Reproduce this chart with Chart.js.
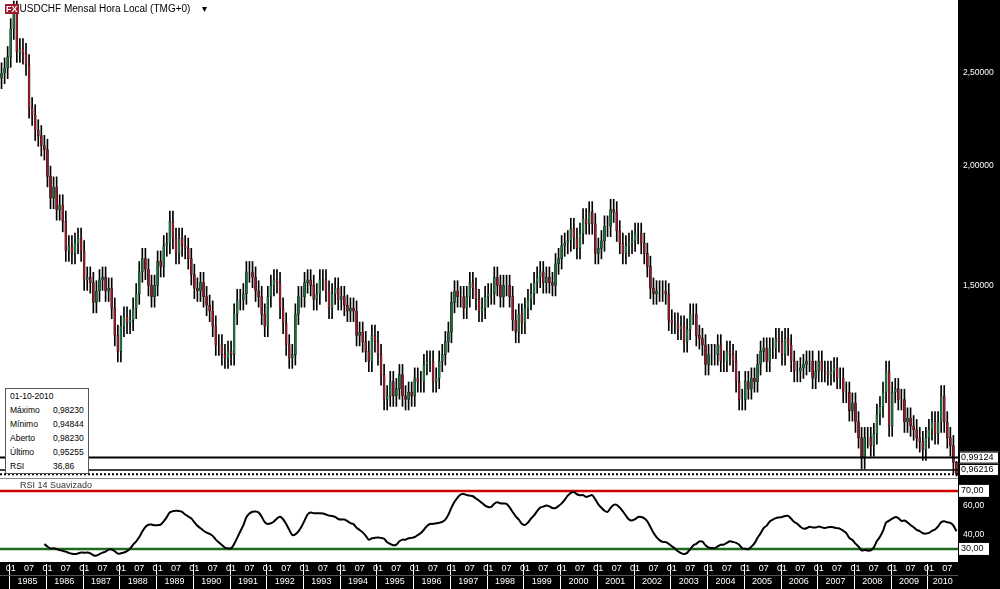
<!DOCTYPE html>
<html>
<head>
<meta charset="utf-8">
<script src="https://cdn.jsdelivr.net/npm/chart.js@4"></script>
<style>
  body { margin: 0; width: 1000px; height: 589px; overflow: hidden; background: #fff; font-family: Arial, "Liberation Sans", sans-serif; position: relative; }
  #mainWrap { position: absolute; left: 0; top: 0; width: 1000px; height: 478px; }
  #rsiWrap { position: absolute; left: 0; top: 478px; width: 1000px; height: 111px; }
  #rightPanel { position: absolute; left: 958px; top: 0; width: 42px; height: 589px; background: #000; }
  #title { position: absolute; left: 5px; top: 3px; font-size: 10px; color: #000; }
  #title .fx { display: inline-block; background: #a01c2c; color: #fff; font-weight: bold; font-size: 9px; padding: 0 1px; margin-right: 1px; }
  #info { position: absolute; left: 5px; top: 388px; width: 82px; background: #fff; border: 1px solid #555; font-size: 8.5px; line-height: 14px; z-index: 5; }
  #info div { padding-left: 4px; }
  #info span { position: absolute; left: 47px; }
  #rsiLabel { position: absolute; left: 20px; top: 480px; font-size: 9px; color: #333; z-index: 5; }
  canvas { display: block; }
</style>
</head>
<body>
<div id="rightPanel"></div>
<div id="mainWrap"><canvas id="mainChart" width="1000" height="478"></canvas></div>
<div id="rsiWrap"><canvas id="rsiChart" width="1000" height="111"></canvas></div>
<div id="title"><span class="fx">FX</span>USDCHF Mensal Hora Local (TMG+0) &nbsp;&nbsp;&nbsp;▾</div>
<div id="info">
  <div>01-10-2010</div>
  <div>Máximo<span>0,98230</span></div>
  <div>Mínimo<span>0,94844</span></div>
  <div>Aberto<span>0,98230</span></div>
  <div>Último<span>0,95255</span></div>
  <div>RSI<span>36,86</span></div>
</div>
<div id="rsiLabel">RSI 14 Suavizado</div>
<script>
// Monthly closes, Oct 1984 - Oct 2010
const closes1984 = [2.50, 2.53, 2.60];
const closes1985 = [2.78, 2.90, 2.63, 2.65, 2.62, 2.55, 2.30, 2.26, 2.18, 2.15, 2.10, 2.08];
const closes1986 = [1.95, 1.85, 1.90, 1.80, 1.82, 1.75, 1.63, 1.65, 1.62, 1.66, 1.68, 1.63];
const closes1987 = [1.52, 1.53, 1.51, 1.44, 1.48, 1.52, 1.53, 1.48, 1.49, 1.42, 1.33, 1.28];
const closes1988 = [1.36, 1.39, 1.37, 1.38, 1.42, 1.47, 1.55, 1.60, 1.56, 1.50, 1.46, 1.50];
const closes1989 = [1.59, 1.57, 1.65, 1.66, 1.75, 1.68, 1.62, 1.68, 1.65, 1.64, 1.60, 1.54];
const closes1990 = [1.49, 1.48, 1.51, 1.46, 1.43, 1.41, 1.36, 1.30, 1.30, 1.27, 1.26, 1.28];
const closes1991 = [1.27, 1.40, 1.45, 1.45, 1.47, 1.55, 1.55, 1.53, 1.48, 1.46, 1.40, 1.36];
const closes1992 = [1.46, 1.50, 1.52, 1.51, 1.42, 1.37, 1.30, 1.26, 1.27, 1.40, 1.46, 1.46];
const closes1993 = [1.51, 1.52, 1.50, 1.45, 1.47, 1.52, 1.52, 1.48, 1.42, 1.47, 1.49, 1.45];
const closes1994 = [1.46, 1.43, 1.41, 1.42, 1.41, 1.33, 1.34, 1.31, 1.28, 1.25, 1.33, 1.31];
const closes1995 = [1.27, 1.21, 1.14, 1.15, 1.19, 1.15, 1.17, 1.21, 1.15, 1.14, 1.16, 1.15];
const closes1996 = [1.20, 1.19, 1.19, 1.24, 1.25, 1.25, 1.19, 1.20, 1.25, 1.27, 1.31, 1.34];
const closes1997 = [1.44, 1.48, 1.46, 1.46, 1.42, 1.46, 1.51, 1.49, 1.45, 1.41, 1.42, 1.46];
const closes1998 = [1.47, 1.47, 1.53, 1.50, 1.46, 1.50, 1.50, 1.46, 1.38, 1.34, 1.40, 1.37];
const closes1999 = [1.42, 1.45, 1.47, 1.51, 1.53, 1.55, 1.51, 1.53, 1.51, 1.50, 1.58, 1.60];
const closes2000 = [1.65, 1.66, 1.67, 1.72, 1.68, 1.64, 1.70, 1.76, 1.74, 1.79, 1.74, 1.62];
const closes2001 = [1.64, 1.67, 1.73, 1.73, 1.80, 1.79, 1.71, 1.66, 1.62, 1.65, 1.66, 1.67];
const closes2002 = [1.70, 1.70, 1.66, 1.62, 1.57, 1.49, 1.47, 1.48, 1.48, 1.48, 1.47, 1.38];
const closes2003 = [1.37, 1.37, 1.35, 1.36, 1.31, 1.35, 1.40, 1.40, 1.33, 1.32, 1.30, 1.24];
const closes2004 = [1.27, 1.27, 1.27, 1.30, 1.25, 1.25, 1.28, 1.27, 1.25, 1.19, 1.14, 1.14];
const closes2005 = [1.19, 1.17, 1.20, 1.19, 1.24, 1.28, 1.29, 1.25, 1.29, 1.29, 1.32, 1.31];
const closes2006 = [1.27, 1.32, 1.30, 1.25, 1.22, 1.22, 1.23, 1.24, 1.25, 1.25, 1.20, 1.22];
const closes2007 = [1.25, 1.22, 1.22, 1.21, 1.22, 1.23, 1.20, 1.20, 1.16, 1.16, 1.11, 1.13];
const closes2008 = [1.08, 1.04, 0.99, 1.04, 1.04, 1.02, 1.05, 1.10, 1.12, 1.16, 1.22, 1.07];
const closes2009 = [1.16, 1.17, 1.14, 1.14, 1.08, 1.09, 1.07, 1.06, 1.04, 1.03, 1.01, 1.04];
const closes2010 = [1.06, 1.08, 1.05, 1.08, 1.15, 1.08, 1.04, 1.02, 0.98, 0.95255];

const priceTicks = [1.5, 2.0, 2.5];
const rsiTicks = [40, 60];
const supportLevel = 0.99124;
const lastLevel = 0.96216;
const lastClose = 0.95255;

const closes = [].concat(closes1984, closes1985, closes1986, closes1987, closes1988, closes1989,
  closes1990, closes1991, closes1992, closes1993, closes1994, closes1995, closes1996, closes1997,
  closes1998, closes1999, closes2000, closes2001, closes2002, closes2003, closes2004, closes2005,
  closes2006, closes2007, closes2008, closes2009, closes2010);

// category labels "YYYY-MM"
const labels = closes.map((c, i) => {
  const m = (i + 9) % 12 + 1;
  const y = 1984 + Math.floor((i + 9) / 12);
  return y + '-' + String(m).padStart(2, '0');
});

const opens = closes.map((c, i) => i === 0 ? 2.47 : closes[i - 1]);
const bodies = closes.map((c, i) => [Math.min(opens[i], c), Math.max(opens[i], c)]);
const wicks = closes.map((c, i) => [Math.min(opens[i], c) * 0.975, Math.max(opens[i], c) * 1.025]);
wicks[wicks.length - 1] = [0.94844, 0.98230];
const bodyColors = closes.map((c, i) => c >= opens[i] ? '#1f6e3c' : '#8e1b2b');

// RSI 14 (Wilder), then smoothed with a 5-month average
const rawRsi = closes.map(() => null);
let gain = 0, loss = 0;
for (let i = 1; i < closes.length; i++) {
  const d = closes[i] - closes[i - 1];
  const g = Math.max(d, 0), l = Math.max(-d, 0);
  if (i <= 14) {
    gain += g / 14; loss += l / 14;
    if (i === 14) rawRsi[i] = 100 - 100 / (1 + gain / (loss || 1e-9));
  } else {
    gain = (gain * 13 + g) / 14; loss = (loss * 13 + l) / 14;
    rawRsi[i] = 100 - 100 / (1 + gain / (loss || 1e-9));
  }
}
const rsi = rawRsi.map((v, i) => {
  if (v === null) return null;
  const win = rawRsi.slice(Math.max(14, i - 4), i + 1);
  return win.reduce((a, b) => a + b, 0) / win.length;
});

const fmt = v => v.toFixed(5).replace('.', ',');

const levelPlugin = {
  id: 'levels',
  afterDatasetsDraw(chart) {
    const { ctx, chartArea, scales } = chart;
    const y = scales.y;
    ctx.save();
    [[supportLevel, 2, []], [lastLevel, 1.5, []], [lastClose, 2, [2, 2]]].forEach(([v, w, dash]) => {
      const py = y.getPixelForValue(v);
      ctx.strokeStyle = '#000'; ctx.lineWidth = w; ctx.setLineDash(dash);
      ctx.beginPath(); ctx.moveTo(chartArea.left, py); ctx.lineTo(chartArea.right, py); ctx.stroke();
    });
    ctx.setLineDash([]);
    ctx.font = '9px Arial';
    [supportLevel, lastLevel].forEach(v => {
      const py = y.getPixelForValue(v);
      ctx.fillStyle = '#fff'; ctx.fillRect(959, py - 6, 40, 12);
      ctx.strokeStyle = '#000'; ctx.lineWidth = 1; ctx.strokeRect(959.5, py - 5.5, 39, 11);
      ctx.fillStyle = '#000'; ctx.textBaseline = 'middle'; ctx.fillText(fmt(v), 961, py);
    });
    ctx.restore();
  }
};

new Chart(document.getElementById('mainChart'), {
  type: 'bar',
  data: {
    labels: labels,
    datasets: [
      { data: bodies, backgroundColor: bodyColors, borderColor: '#000', borderWidth: 0.3, borderSkipped: false, grouped: false, barThickness: 2, order: 0, clip: false },
      { data: wicks, backgroundColor: '#000', grouped: false, barThickness: 1, order: 1, clip: false }
    ]
  },
  options: {
    animation: false, responsive: false, maintainAspectRatio: false,
    events: [],
    layout: { padding: 0 },
    plugins: { legend: { display: false }, tooltip: { enabled: false } },
    scales: {
      x: { display: false, offset: true },
      y: {
        type: 'logarithmic', position: 'right', min: 0.96, max: 2.93,
        afterFit: s => { s.width = 42; },
        afterBuildTicks: s => { s.ticks = priceTicks.map(v => ({ value: v })); },
        grid: { display: false, tickLength: 3, tickColor: '#fff' },
        border: { display: false },
        ticks: { color: '#fff', font: { size: 8.5 }, padding: 2, callback: v => fmt(v) }
      }
    }
  },
  plugins: [levelPlugin]
});

const rsiPlugin = {
  id: 'rsiDeco',
  beforeDraw(chart) {
    const { ctx, chartArea } = chart;
    ctx.save();
    ctx.fillStyle = '#000';
    ctx.fillRect(0, chartArea.bottom, 1000, chart.height - chartArea.bottom);
    ctx.restore();
  },
  beforeDatasetsDraw(chart) {
    const { ctx, chartArea, scales } = chart;
    ctx.save();
    ctx.strokeStyle = '#888'; ctx.lineWidth = 1;
    ctx.beginPath(); ctx.moveTo(0, 0.5); ctx.lineTo(chartArea.right, 0.5); ctx.stroke();
    [[70, '#d00000'], [30, '#1e6b1e']].forEach(([v, c]) => {
      const py = scales.y.getPixelForValue(v);
      ctx.strokeStyle = c; ctx.lineWidth = 2.5;
      ctx.beginPath(); ctx.moveTo(chartArea.left, py); ctx.lineTo(chartArea.right, py); ctx.stroke();
    });
    ctx.restore();
  },
  afterDraw(chart) {
    const { ctx, chartArea, scales } = chart;
    const x = scales.x;
    ctx.save();
    ctx.fillStyle = '#fff'; ctx.font = '9px Arial'; ctx.textAlign = 'center'; ctx.textBaseline = 'middle';
    ctx.strokeStyle = '#fff'; ctx.lineWidth = 1;
    const yy = chartArea.bottom + 20;
    for (let yr = 1985; yr <= 2010; yr++) {
      const i0 = labels.indexOf(yr + '-01');
      const i1 = labels.indexOf(yr + '-12');
      const p0 = x.getPixelForValue(i0) - 1.5;
      const p1 = i1 >= 0 ? x.getPixelForValue(i1) + 1.5 : chartArea.right;
      ctx.fillText(String(yr), (p0 + p1) / 2, yy);
      ctx.beginPath(); ctx.moveTo(Math.round(p0) + 0.5, chartArea.bottom + 2); ctx.lineTo(Math.round(p0) + 0.5, chart.height); ctx.stroke();
    }
    ctx.beginPath(); ctx.moveTo(0, chartArea.bottom + 13.5); ctx.lineTo(chartArea.right, chartArea.bottom + 13.5);
    ctx.strokeStyle = '#555'; ctx.stroke();
    ctx.textAlign = 'left';
    [70, 30].forEach(v => {
      const py = scales.y.getPixelForValue(v);
      ctx.fillStyle = '#fff'; ctx.fillRect(959, py - 6, 30, 12);
      ctx.fillStyle = '#000'; ctx.fillText(v.toFixed(2).replace('.', ','), 961, py);
    });
    ctx.restore();
  }
};

new Chart(document.getElementById('rsiChart'), {
  type: 'line',
  data: {
    labels: labels,
    datasets: [{ data: rsi, borderColor: '#000', borderWidth: 2, pointRadius: 0, tension: 0.3, fill: false }]
  },
  options: {
    animation: false, responsive: false, maintainAspectRatio: false,
    events: [],
    layout: { padding: 0 },
    plugins: { legend: { display: false }, tooltip: { enabled: false } },
    scales: {
      x: {
        offset: true,
        afterFit: s => { s.height = 27; },
        grid: { display: false, drawTicks: false, tickLength: 0 },
        border: { display: false },
        ticks: {
          color: '#fff', font: { size: 9 }, padding: 1, maxRotation: 0, autoSkip: false,
          callback: (v, i) => {
            const m = labels[i].slice(5);
            return (m === '01' || m === '07') ? m : null;
          }
        }
      },
      y: {
        position: 'right', min: 21, max: 74,
        afterFit: s => { s.width = 42; },
        afterBuildTicks: s => { s.ticks = rsiTicks.map(v => ({ value: v })); },
        grid: { display: false, tickLength: 3, tickColor: '#fff' },
        border: { display: false },
        ticks: { color: '#fff', font: { size: 8.5 }, padding: 2, callback: v => v.toFixed(2).replace('.', ',') }
      }
    }
  },
  plugins: [rsiPlugin]
});
</script>
</body>
</html>
